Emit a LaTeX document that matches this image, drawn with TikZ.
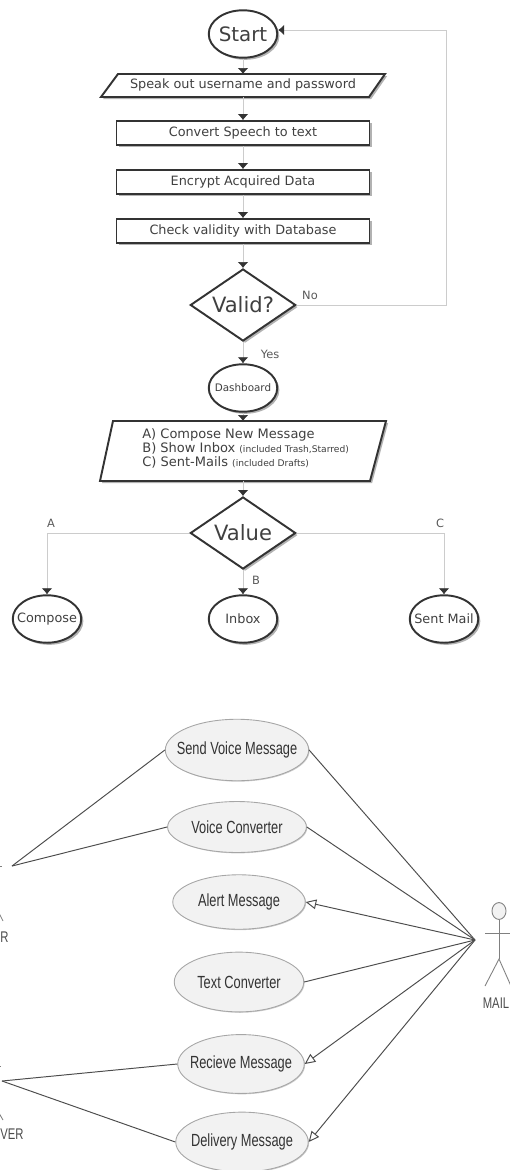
\documentclass[tikz,border=0pt]{standalone}
\usepackage{fontspec}
\usepackage{xcolor}
\usepackage{tikz}
\usetikzlibrary{shapes,shadows,arrows,calc}
\usetikzlibrary{arrows.meta}
\setmainfont{DejaVu Sans}
\newfontfamily\usecasefont[FakeStretch=0.73]{Liberation Sans}

\definecolor{flowink}{gray}{0.2}
\definecolor{linkgray}{gray}{0.8}
\definecolor{casegray}{gray}{0.95}

\tikzset{
    flowshadow/.style={drop shadow={shadow xshift=1.2pt,shadow yshift=-1.2pt,opacity=0.3,fill=black}},
    flowcircle/.style={ellipse,draw=flowink,line width=1.1pt,fill=white,minimum width=39pt,minimum height=27pt,inner sep=0pt,flowshadow},
    flowbox/.style={rectangle,draw=flowink,line width=1.1pt,fill=white,minimum width=144pt,minimum height=13.6pt,inner sep=0pt,flowshadow,text=black!75,font=\fontsize{7.3}{9}\selectfont},
    flowslant/.style={draw=flowink,line width=1.1pt,fill=white,flowshadow},
    flowdecide/.style={diamond,draw=flowink,line width=1.1pt,fill=white,minimum width=60pt,minimum height=41pt,inner sep=0pt,flowshadow},
    flowtext/.style={text=black!75,inner sep=0pt,font=\fontsize{7.3}{9}\selectfont},
    flowbig/.style={text=black!75,inner sep=0pt,font=\fontsize{12}{14}\selectfont},
    flowarrow/.style={draw=linkgray,line width=0.4pt,-{Latex[length=3.4pt,width=6pt,flowink]}},
    flowlabel/.style={text=black!65,font=\fontsize{6.5}{8}\selectfont},
    usecase/.style={ellipse,draw=gray!70,line width=0.5pt,fill=casegray,inner sep=0pt,drop shadow={shadow xshift=0.5pt,shadow yshift=-0.5pt,opacity=0.2,fill=black}},
    usecasetext/.style={text=black!80,inner sep=0pt,font=\usecasefont\fontsize{10}{12}\selectfont},
    caselink/.style={draw=black!70,line width=0.55pt},
    casearrow/.style={draw=black!70,line width=0.55pt,-{Triangle[open,length=6pt,width=5.5pt,fill=white]}},
    actorline/.style={draw=gray,line width=0.5pt},
    actorlabel/.style={text=black!70,inner sep=0pt,font=\usecasefont\fontsize{8.8}{10}\selectfont}
}

\begin{document}
\begin{tikzpicture}[x=0.02cm,y=-0.02cm]
    \clip (0,0) rectangle (510,1170);
    \useasboundingbox (0,0) rectangle (510,1170);

    % Flowchart
    \node[flowcircle,label={[flowbig,font=\fontsize{11.3}{13}\selectfont]center:Start}] (start) at (243,34) {};

    \draw[flowslant] (118,74) -- (385,74) -- (369,97) -- (101,97) -- cycle;
    \node[flowtext] (speak) at (243,85) {Speak out username and password};
    \coordinate (speaktop) at (243,74);
    \coordinate (speakbot) at (243,97);

    \node[flowbox] (convert) at (243,133) {Convert Speech to text};
    \node[flowbox] (encrypt) at (243,182) {Encrypt Acquired Data};
    \node[flowbox] (check) at (243,231) {Check validity with Database};

    \node[flowdecide,label={[flowbig]center:Valid?}] (valid) at (243,305) {};
    \node[flowcircle,label={[flowtext,font=\fontsize{5.9}{7}\selectfont]center:Dashboard}] (dash) at (243,388) {};

    \draw[flowslant] (113,421) -- (386,421) -- (370,481) -- (100,481) -- cycle;
    \node[flowtext,align=left,anchor=west,font=\fontsize{7.4}{8}\selectfont] (menu) at (142,448)
        {A) Compose New Message\\
         B) Show Inbox {\fontsize{5.2}{6}\selectfont (included Trash,Starred)}\\
         C) Sent-Mails {\fontsize{5.2}{6}\selectfont (included Drafts)}};
    \coordinate (menutop) at (243,421);
    \coordinate (menubot) at (243,481);

    \node[flowdecide,label={[flowbig]center:Value}] (value) at (243,533) {};

    \node[flowcircle,label={[flowtext]center:Compose}] (compose) at (47,619) {};
    \node[flowcircle,label={[flowtext]center:Inbox}] (inbox) at (243,619) {};
    \node[flowcircle,label={[flowtext]center:Sent Mail}] (sent) at (444,619) {};

    % Flowchart connectors
    \draw[flowarrow] (start) -- (speaktop);
    \draw[flowarrow] (speakbot) -- (convert);
    \draw[flowarrow] (convert) -- (encrypt);
    \draw[flowarrow] (encrypt) -- (check);
    \draw[flowarrow] (check) -- (valid);
    \draw[flowarrow] (valid) -- (dash);
    \draw[flowarrow] (dash) -- (menutop);
    \draw[flowarrow] (menubot) -- (value);
    \draw[flowarrow] (value) -- (inbox);
    \draw[flowarrow] (value.west) -| (compose);
    \draw[flowarrow] (value.east) -| (sent);
    \coordinate (loopa) at (446,305);
    \coordinate (loopb) at (446,30);
    \draw[flowarrow] (valid.east) -- (loopa) -- (loopb) -- (start.east |- loopb);

    \node[flowlabel] (nolab) at (310,295) {No};
    \node[flowlabel] (yeslab) at (270,354) {Yes};
    \node[flowlabel] (alab) at (51,523) {A};
    \node[flowlabel] (blab) at (256,580) {B};
    \node[flowlabel] (clab) at (440,523) {C};

    % Use cases
    \node[usecase,minimum width=81.6pt,minimum height=35pt,label={[usecasetext]center:Send Voice Message}] (send) at (237,750) {};
    \node[usecase,minimum width=79pt,minimum height=29pt,label={[usecasetext]center:Voice Converter}] (voice) at (237,827) {};
    \node[usecase,minimum width=75.4pt,minimum height=31pt,label={[usecasetext]center:Alert Message}] (alert) at (239,902) {};
    \node[usecase,minimum width=73.7pt,minimum height=34pt,label={[usecasetext]center:Text Converter}] (text) at (239,982) {};
    \node[usecase,minimum width=72pt,minimum height=33.5pt,label={[usecasetext]center:Recieve Message}] (recv) at (241,1064) {};
    \node[usecase,minimum width=75.4pt,minimum height=34pt,label={[usecasetext]center:Delivery Message}] (deliver) at (242,1142) {};

    % Actors
    \coordinate (mailhub) at (475,940);
    \coordinate (senderhub) at (12,866);
    \coordinate (receiverhub) at (2,1081);

    \draw[caselink] (senderhub) -- (send.west);
    \draw[caselink] (senderhub) -- (voice.west);
    \draw[caselink] (receiverhub) -- (recv.west);
    \draw[caselink] (receiverhub) -- (deliver.west);
    \draw[caselink] (mailhub) -- (send.east);
    \draw[caselink] (mailhub) -- (voice.east);
    \draw[caselink] (mailhub) -- (text.east);
    \draw[casearrow] (mailhub) -- (alert.east);
    \draw[casearrow] (mailhub) -- (recv.east);
    \draw[casearrow] (mailhub) -- (deliver.east);

    \node[ellipse,draw=gray,fill=casegray,line width=0.5pt,minimum width=8pt,minimum height=9.6pt,inner sep=0pt] (head) at (499,911) {};
    \coordinate (hip) at (499,959);
    \draw[actorline] (head) -- (hip);
    \draw[actorline] (485,933) -- (511,933);
    \draw[actorline] (485,986) -- (hip) -- (511,986);
    \node[actorlabel] (mail) at (496,1003) {MAIL};

    % Cut off at the left edge
    \draw[actorline] (-4,866) -- (2,866);
    \draw[actorline] (-1,913) -- (3,921);
    \draw[actorline] (-4,1066) -- (1,1066);
    \draw[actorline] (-1,1113) -- (3,1120);
    \node[actorlabel,anchor=west] (senderlab) at (0,937) {R};
    \node[actorlabel,anchor=west] (receiverlab) at (0,1134) {VER};
\end{tikzpicture}
\end{document}
